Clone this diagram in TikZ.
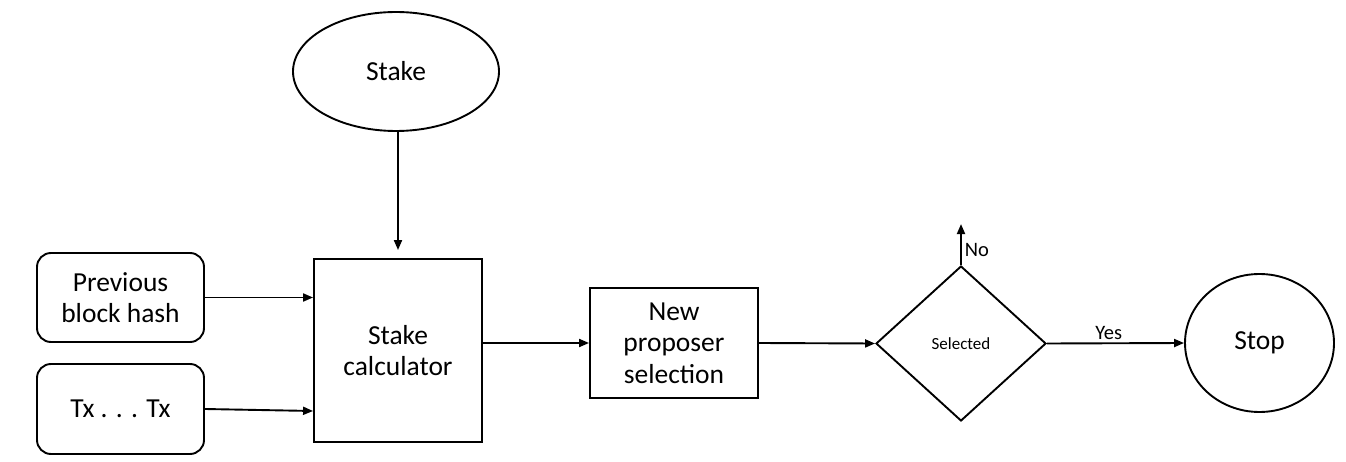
\documentclass[tikz,border=0pt]{standalone}
\usepackage{fontspec}
\setmainfont{Carlito}
\usetikzlibrary{shapes.geometric,arrows.meta,calc}
\begin{document}
\begin{tikzpicture}[x=1pt,y=-1pt,line width=1.9pt,
  >={Triangle[length=10pt,width=8pt]},
  base/.style={draw,inner sep=0pt,align=center,font=\fontsize{27.5}{31.5}\selectfont},
  rbox/.style={base,rectangle,rounded corners=14pt,minimum width=167pt},
  sbox/.style={base,rectangle},
  oval/.style={base,ellipse},
  dec/.style={base,diamond,font=\fontsize{17}{20}\selectfont},
  lbl/.style={font=\fontsize{20.5}{24}\selectfont,inner sep=3pt},
  conn/.style={->}]
\useasboundingbox (0,0) rectangle (1346,462);
\node[oval,minimum width=206pt,minimum height=119pt] (stake) at (396,71.5) {Stake};
\node[rbox,minimum height=89pt] (prev) at (120.5,297.5) {Previous\\block hash};
\node[rbox,minimum height=90pt] (tx) at (120.5,409) {Tx . . . Tx};
\node[sbox,minimum width=168pt,minimum height=183pt] (calc) at (398,350.5) {Stake\\calculator};
\node[sbox,minimum width=168pt,minimum height=110pt] (prop) at (674,343) {New\\proposer\\selection};
\node[dec,minimum width=170pt,minimum height=155pt] (sel) at (961,343.5) {Selected};
\node[oval,minimum width=149pt,minimum height=138pt] (stop) at (1259.5,343) {Stop};
\coordinate (noend) at ($(sel.north)+(0,-41)$);
\draw[conn,shorten >=8pt] (calc.north |- stake.south) -- (calc.north);
\draw[conn] (prev.east) -- (prev.east -| calc.west);
\draw[conn] (tx.east) -- ($(tx.east -| calc.west)+(0,2)$);
\draw[conn] (calc.east |- prop.west) -- (prop.west);
\draw[conn] (prop.east) -- (sel.west);
\draw[conn] (sel.east) -- node[lbl,above,pos=0.45] {Yes} (stop.west);
\draw[conn] (sel.north) -- node[lbl,right,pos=0.37] {No} (noend);
\end{tikzpicture}
\end{document}
